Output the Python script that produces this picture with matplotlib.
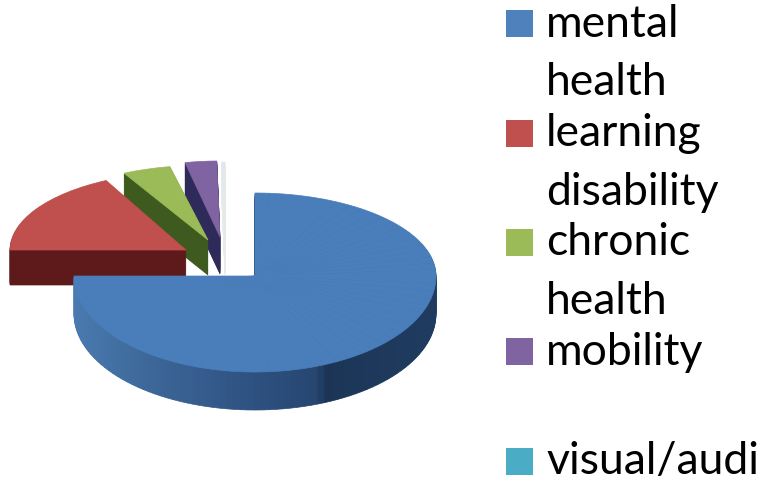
import matplotlib
matplotlib.use("Agg")
import matplotlib.pyplot as plt
from matplotlib.colors import LinearSegmentedColormap
from matplotlib.patches import Rectangle
from matplotlib.transforms import Affine2D
import numpy as np

# share of each category, percent
categories = ["mental health", "learning disability", "chronic health", "mobility", "visual/audi"]
values = [75, 17.5, 4.2, 3.0, 0.3]

top_colors = ["#4a7eba", "#c0504d", "#9bbb59", "#8064a2", "#e3e8ec"]
side_colors = [None, "#5e1a1b", "#3f5a1f", "#2e2a5a", "#e6eaed"]
legend_colors = ["#4f81bd", "#c0504d", "#9bbb59", "#8064a2", "#4bacc6"]
legend_lines = [["mental", "health"], ["learning", "disability"], ["chronic", "health"], ["mobility", ""], ["visual/audi"]]

# layout in pixels: centre x, centre y, rx, ry back, ry front, depth
wedge_layout = [
    (255, 276, 181, 83, 96, 38),
    (186, 250, 176, 78, 78, 35),
    (208, 240, 185, 75, 75, 35),
    (220, 237, 170, 76, 76, 37),
    (225, 238, 170, 76, 76, 37),
]
legend_box_top = [10, 120, 229, 338, 448]
legend_baselines = [[37, 95], [146, 205], [255, 314], [365, 0], [474]]

blue_side = LinearSegmentedColormap.from_list("blue_side", [
    (0, "#4a7ab0"), (0.2, "#3d6899"), (0.5, "#2d5181"), (0.68, "#264670"),
    (0.685, "#1c3557"), (1, "#1f3c60")])

plt.rcParams["font.family"] = ["Lato", "DejaVu Sans"]
fig = plt.figure(figsize=(7.61, 4.83), dpi=100)
ax = fig.add_axes([0, 0, 1, 1])


def draw_layer(start, value, colors, layout, dy=0):
    cx, cy, rx, ry_back, ry_front, _ = layout
    parts = [value / len(colors) / 100] * len(colors)
    patches = ax.pie(parts, colors=colors, startangle=90 - start, counterclock=False,
                     normalize=False)[0]
    for p in patches:
        # pie angles are ccw from +x, back half has sin > 0
        mid = np.radians((p.theta1 + p.theta2) / 2)
        ry = ry_back if np.sin(mid) > 0 else ry_front
        p.set_edgecolor(p.get_facecolor())
        p.set_linewidth(0.5)
        p.set_transform(Affine2D().scale(rx, -ry).translate(cx, cy + dy) + ax.transData)


starts = np.concatenate([[0], np.cumsum(values)[:-1]]) * 3.6

# back wedges first, blue goes on top of everything
for i in range(len(values) - 1, -1, -1):
    layout = wedge_layout[i]
    if i == 0:
        # shaded rim, colour follows the x position of each slice
        n = 120
        mids = starts[i] + (np.arange(n) + 0.5) * values[i] * 3.6 / n
        side = [blue_side((np.sin(np.radians(m)) + 1) / 2) for m in mids]
    else:
        side = [side_colors[i]]
    for dy in range(layout[5], 0, -1):
        draw_layer(starts[i], values[i], side, layout, dy)
    if i == 0:
        # split so the back and the front of the ellipse get their own height
        draw_layer(starts[i], values[i], [top_colors[i]] * 60, layout)
    else:
        draw_layer(starts[i], values[i], [top_colors[i]], layout)

# legend
for i in range(len(categories)):
    ax.add_patch(Rectangle((506, legend_box_top[i]), 27, 27, color=legend_colors[i], lw=0))
    for line, base in zip(legend_lines[i], legend_baselines[i]):
        if line:
            ax.text(546, base, line, fontsize=32, color="black", va="baseline", ha="left")

ax.set_aspect("auto")
ax.set_xlim(0, 761)
ax.set_ylim(483, 0)
ax.axis("off")
fig.savefig("out.png", dpi=100)
